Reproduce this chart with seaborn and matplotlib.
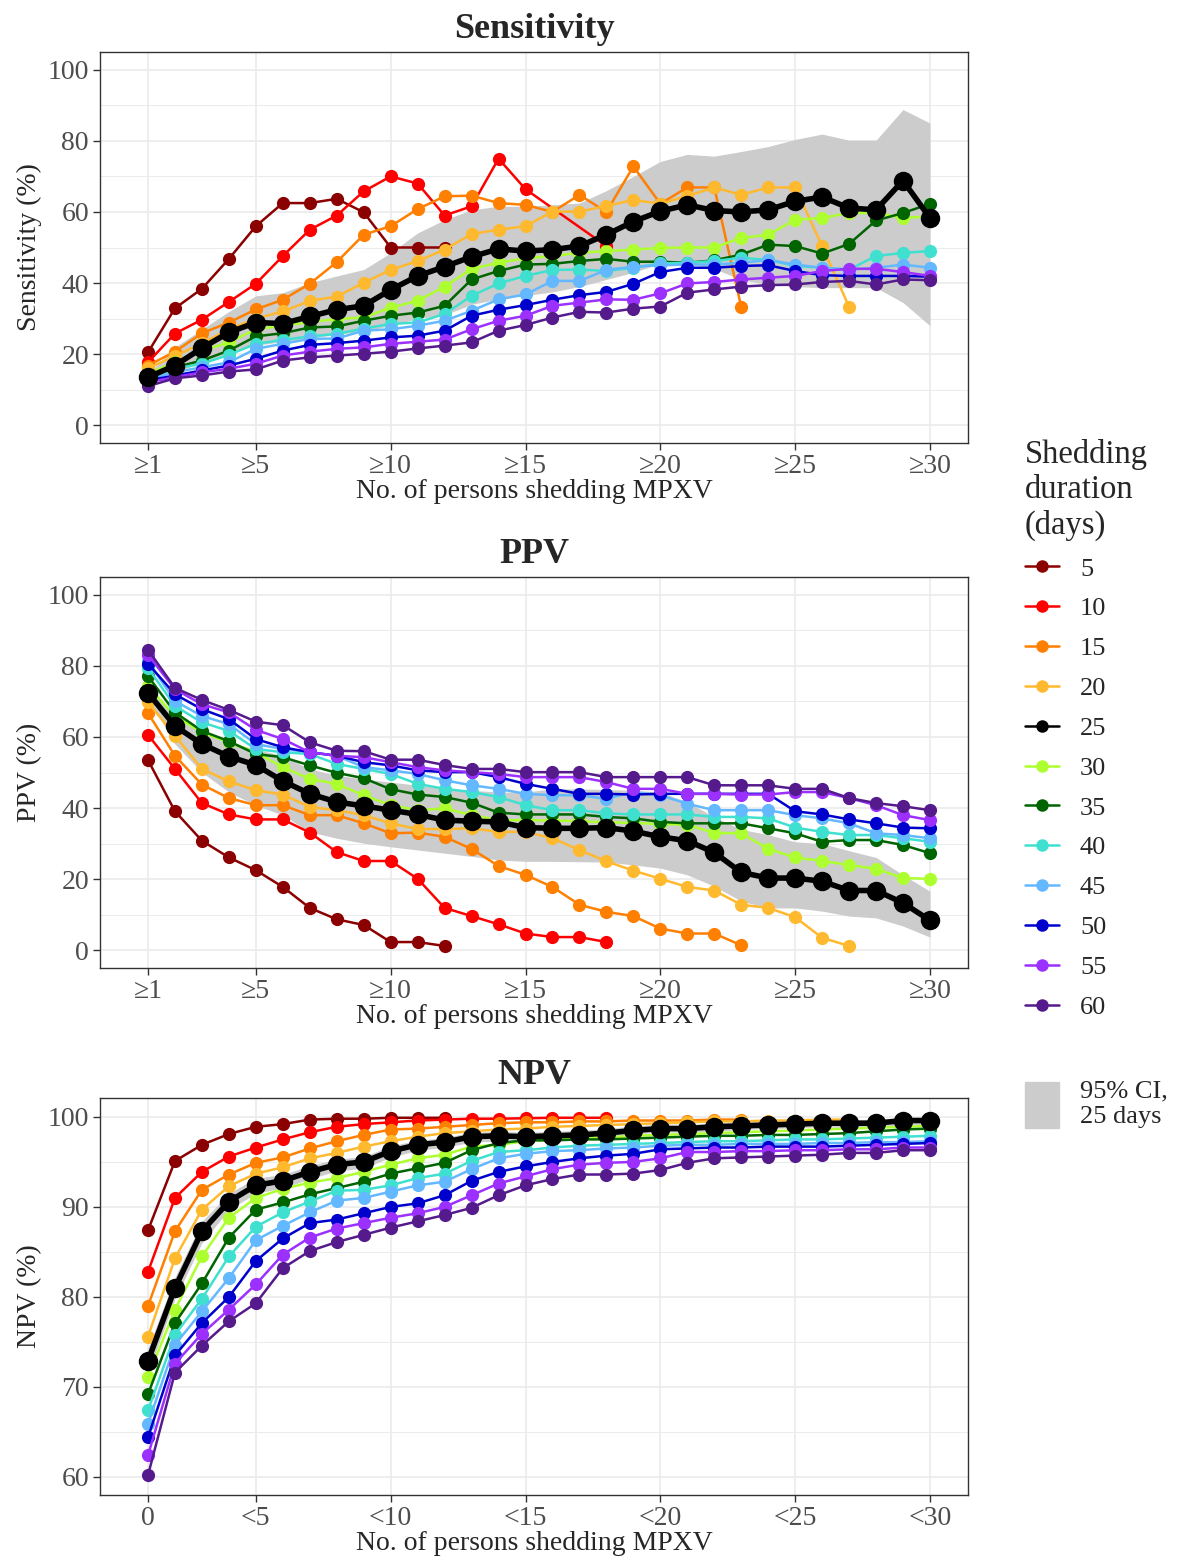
import numpy as np
import pandas as pd
import seaborn as sns
import matplotlib.pyplot as plt
from matplotlib.lines import Line2D
from matplotlib.patches import Patch
from matplotlib.ticker import MultipleLocator

nan = np.nan

# shedding durations (days) and their colours
durations = [5, 10, 15, 20, 25, 30, 35, 40, 45, 50, 55, 60]
colors = ["#8B0000", "#FF0000", "#FF7F00", "#FFB92E", "#000000", "#ADFF2F",
          "#006400", "#40E0D0", "#63B8FF", "#0000CD", "#9B30FF", "#551A8B"]

top_ticks = ["≥1", "≥5", "≥10", "≥15", "≥20", "≥25", "≥30"]
npv_ticks = ["0", "<5", "<10", "<15", "<20", "<25", "<30"]
tick_pos = [1, 5, 10, 15, 20, 25, 30]

# sensitivity (%), x = 1..n persons shedding
sens = {
    5: [20.5, 32.9, 38.4, 46.8, 56.0, 62.5, 62.5, 63.7, 59.9, 50.0, 50.0, 50.0],
    10: [17.7, 25.8, 29.7, 34.7, 39.8, 47.6, 55.0, 59.0, 65.8, 70.0, 68.0, 59.0, 61.6, 75.0, 66.4, nan, nan, 50.4],
    15: [16.8, 20.7, 25.9, 28.9, 32.6, 35.3, 39.8, 45.9, 53.6, 56.0, 60.8, 64.4, 64.6, 62.5, 62.0, 60.0, 64.8, 60.0,
         72.8, 62.3, 66.9, 66.9, 33.3],
    20: [16.0, 19.5, 23.0, 27.0, 30.0, 32.0, 35.0, 36.2, 40.1, 43.7, 46.2, 49.4, 53.8, 55.0, 56.0, 60.1, 60.1, 61.7,
         63.4, 62.3, 64.5, 66.9, 64.8, 66.9, 66.9, 50.4, 33.3],
    25: [13.5, 16.8, 21.7, 26.1, 28.9, 28.6, 30.6, 32.5, 33.6, 38.1, 42.0, 44.6, 47.4, 49.6, 49.0, 49.4, 50.4, 53.6,
         57.3, 60.2, 62.0, 60.4, 60.0, 60.6, 63.0, 64.2, 61.1, 60.6, 68.8, 58.3],
    30: [14.5, 17.7, 21.0, 23.3, 27.0, 28.0, 29.0, 29.9, 30.3, 33.1, 35.0, 39.0, 44.0, 45.7, 47.0, 47.6, 48.5, 49.0,
         49.4, 49.9, 50.0, 50.0, 52.7, 53.6, 57.8, 58.3, 59.7, 59.7, 58.3, 58.8],
    35: [14.0, 16.3, 18.2, 21.0, 25.0, 25.9, 27.5, 27.8, 29.4, 30.8, 31.7, 33.6, 41.0, 43.4, 45.2, 45.4, 46.2, 46.8,
         46.0, 46.0, 45.7, 46.4, 48.0, 50.8, 50.4, 48.3, 51.0, 57.6, 59.7, 62.3],
    40: [13.5, 15.9, 17.3, 19.8, 22.9, 24.0, 25.0, 25.7, 27.2, 28.5, 28.9, 31.3, 36.4, 39.9, 42.0, 43.7, 43.8, 43.4,
         44.3, 45.5, 45.7, 46.2, 47.1, 46.5, 44.8, 44.3, 43.8, 47.6, 48.5, 49.0],
    45: [13.0, 14.9, 16.3, 17.7, 21.5, 22.9, 24.3, 24.4, 26.6, 27.0, 28.0, 29.4, 32.2, 35.4, 36.8, 40.6, 40.6, 43.7,
         44.6, 45.0, 45.2, 45.2, 45.7, 46.5, 45.2, 44.3, 43.8, 44.3, 45.2, 44.3],
    50: [12.6, 14.0, 15.4, 16.8, 18.7, 21.0, 22.6, 23.1, 23.8, 24.7, 25.2, 26.6, 30.8, 32.5, 33.8, 35.3, 36.6, 37.5,
         39.8, 43.1, 44.3, 44.3, 44.8, 45.0, 43.4, 42.2, 42.0, 42.0, 42.0, 41.8],
    55: [12.1, 13.5, 14.9, 15.9, 17.3, 19.6, 20.7, 21.5, 21.9, 22.9, 23.5, 24.1, 27.0, 29.4, 30.8, 33.6, 34.5, 35.4,
         35.3, 37.1, 39.9, 40.3, 41.0, 41.5, 42.0, 43.4, 44.0, 44.0, 43.1, 42.0],
    60: [11.0, 13.2, 14.0, 15.1, 15.7, 18.2, 19.1, 19.6, 20.1, 20.7, 21.6, 22.4, 23.3, 26.6, 28.2, 30.3, 31.9, 31.7,
         32.8, 33.4, 37.3, 38.2, 39.0, 39.4, 39.6, 40.3, 40.6, 39.6, 41.0, 40.8],
}
sens_lo = [13, 15, 17.5, 20.5, 22.5, 23.5, 24.5, 25.5, 26.5, 28, 30, 31, 34, 35.5, 36.5, 37.5, 39, 41, 43, 45.5,
           45.5, 44, 41, 39.5, 39, 38.7, 38.7, 38.7, 34.5, 28]
sens_hi = [14.5, 22, 27, 32, 36.4, 37.3, 40.1, 42, 43.8, 48.5, 54.1, 57.8, 60.6, 61.6, 61.6, 62, 62.5, 66, 70, 74.2,
           76.2, 75.7, 77, 78.4, 80.4, 81.9, 80.2, 80.2, 88.8, 85]

# positive predictive value (%)
ppv = {
    5: [53.5, 39.1, 30.8, 26.1, 22.5, 17.8, 11.9, 8.7, 7.1, 2.3, 2.3, 1.2],
    10: [60.6, 51.0, 41.4, 38.2, 36.8, 36.8, 33.1, 27.6, 25.1, 25.1, 20.1, 11.9, 9.6, 7.3, 4.7, 3.7, 3.7, 2.3],
    15: [66.7, 54.7, 46.6, 42.8, 40.8, 40.8, 38.0, 38.0, 35.7, 32.9, 33.1, 31.9, 28.5, 23.7, 21.2, 17.8, 12.8, 10.8,
         9.6, 6.1, 4.7, 4.7, 1.4],
    20: [69.8, 60.3, 51.0, 47.5, 45.0, 43.8, 40.3, 39.4, 38.0, 35.7, 34.1, 34.1, 34.3, 33.3, 33.3, 31.5, 28.2, 25.0,
         22.4, 20.1, 17.8, 16.8, 12.8, 11.9, 9.3, 3.5, 1.2],
    25: [72.4, 63.1, 58.0, 54.5, 52.1, 47.6, 44.0, 41.7, 40.6, 39.4, 38.2, 36.6, 36.3, 36.1, 34.5, 34.3, 34.3, 34.5,
         33.5, 31.9, 30.8, 27.5, 21.9, 20.3, 20.3, 19.4, 16.8, 16.8, 13.3, 8.4],
    30: [74.3, 65.9, 61.3, 58.5, 55.7, 51.5, 48.2, 46.8, 43.6, 40.8, 39.4, 39.9, 38.0, 36.6, 36.6, 36.5, 36.3, 36.0,
         35.8, 35.5, 35.3, 33.0, 32.9, 28.5, 26.1, 25.1, 24.0, 22.9, 20.3, 20.1],
    35: [77.1, 66.9, 61.7, 58.8, 55.2, 54.3, 52.0, 49.9, 48.4, 45.3, 43.8, 43.1, 41.5, 38.7, 38.2, 38.2, 38.2, 37.5,
         37.1, 36.1, 35.7, 35.7, 35.7, 34.3, 32.9, 30.5, 31.0, 31.0, 29.6, 27.3],
    40: [79.4, 68.7, 64.1, 61.7, 56.6, 55.7, 55.2, 52.4, 51.0, 49.6, 46.8, 45.4, 44.5, 43.1, 40.8, 39.4, 39.4, 38.5,
         38.2, 38.2, 38.2, 37.5, 37.5, 37.1, 34.5, 33.3, 32.4, 32.4, 31.5, 30.5],
    45: [81.3, 70.1, 65.9, 63.6, 58.0, 56.6, 55.7, 54.7, 51.5, 50.6, 49.6, 47.8, 46.4, 45.4, 44.0, 43.6, 43.6, 42.6,
         44.5, 43.6, 41.2, 39.4, 39.4, 39.4, 38.0, 37.1, 35.7, 32.9, 32.4, 31.5],
    50: [80.6, 72.0, 67.8, 65.0, 59.4, 57.1, 55.7, 54.7, 52.9, 52.0, 50.6, 50.1, 50.1, 48.7, 46.8, 45.4, 44.0, 44.0,
         43.8, 44.0, 44.0, 44.0, 44.0, 44.0, 39.1, 38.2, 36.8, 35.7, 34.5, 34.3],
    55: [83.1, 73.4, 69.2, 66.9, 62.0, 59.4, 55.7, 54.7, 54.3, 52.9, 51.5, 50.6, 50.1, 49.6, 48.7, 48.7, 48.7, 47.3,
         45.4, 45.4, 44.0, 44.0, 43.8, 43.8, 44.5, 44.5, 42.8, 40.8, 38.0, 36.6],
    60: [84.5, 73.8, 70.4, 67.6, 64.3, 63.3, 58.5, 56.1, 56.0, 53.6, 53.6, 52.1, 51.0, 51.0, 50.1, 50.1, 50.1, 48.7,
         48.7, 48.7, 48.7, 46.4, 46.4, 46.4, 45.4, 45.4, 42.8, 41.4, 40.5, 39.4],
}
ppv_lo = [71, 58, 50, 44.5, 40.8, 38, 33.3, 31.5, 30.1, 29.1, 28.2, 27.3, 26.4, 25.4, 25, 25, 24.9, 24.8, 24, 23.1,
          21.2, 18, 13.8, 11.9, 11.9, 11, 9.6, 9.1, 6.8, 3.7]
ppv_hi = [74, 66, 61.3, 58.5, 56.6, 54.7, 51, 49.2, 48.2, 47.3, 46.4, 45.4, 45, 44.5, 44.5, 45.4, 45.4, 45.2, 45,
          44.5, 41.7, 37.5, 34, 32.5, 30.5, 30, 28, 26.1, 21.2, 16.6]

# negative predictive value (%)
npv = {
    5: [87.4, 95.1, 96.9, 98.1, 98.9, 99.2, 99.7, 99.8, 99.8, 99.9, 99.9, 99.9],
    10: [82.8, 91.0, 93.9, 95.6, 96.6, 97.5, 98.3, 98.9, 99.2, 99.4, 99.6, 99.7, 99.8, 99.8, 99.85, 99.9, 99.9, 99.9],
    15: [79.0, 87.3, 91.9, 93.6, 94.9, 95.5, 96.5, 97.3, 98.0, 98.6, 98.7, 98.9, 99.1, 99.3, 99.4, 99.4, 99.5, 99.5,
         99.6, 99.6, 99.6, 99.7, 99.7],
    20: [75.6, 84.3, 89.7, 92.3, 93.7, 94.4, 95.4, 96.0, 96.7, 97.3, 97.8, 98.2, 98.4, 98.6, 98.7, 98.9, 99.0, 99.1,
         99.2, 99.3, 99.4, 99.5, 99.5, 99.6, 99.6, 99.7, 99.7],
    25: [72.9, 81.0, 87.3, 90.6, 92.4, 92.9, 93.9, 94.7, 95.0, 96.2, 96.9, 97.2, 97.8, 97.9, 97.8, 97.9, 98.0, 98.2,
         98.5, 98.7, 98.7, 98.9, 99.0, 99.1, 99.2, 99.3, 99.3, 99.3, 99.6, 99.6],
    30: [71.1, 78.6, 84.5, 88.8, 91.0, 92.0, 92.7, 93.2, 93.9, 94.7, 95.4, 95.8, 96.7, 96.9, 97.3, 97.5, 97.6, 97.7,
         97.9, 98.0, 98.1, 98.2, 98.3, 98.4, 98.5, 98.6, 98.7, 98.8, 98.9, 99.0],
    35: [69.2, 77.1, 81.5, 86.6, 89.7, 90.5, 91.4, 92.1, 92.8, 93.7, 94.3, 94.9, 96.3, 97.1, 97.4, 97.4, 97.5, 97.5,
         97.6, 97.7, 97.8, 97.9, 97.9, 98.0, 98.0, 98.1, 98.2, 98.4, 98.6, 98.7],
    40: [67.4, 75.8, 79.8, 84.5, 87.8, 89.4, 90.6, 91.8, 91.9, 92.4, 93.2, 93.7, 95.1, 96.1, 96.3, 96.6, 96.8, 96.9,
         97.0, 97.1, 97.2, 97.3, 97.3, 97.4, 97.5, 97.5, 97.6, 97.7, 97.8, 97.9],
    45: [65.9, 74.7, 78.4, 82.1, 86.3, 87.9, 89.4, 90.7, 91.0, 91.7, 92.4, 92.8, 94.2, 95.4, 95.9, 96.2, 96.3, 96.5,
         96.6, 96.8, 96.9, 96.9, 97.0, 97.0, 97.0, 97.1, 97.1, 97.2, 97.2, 97.3],
    50: [64.4, 73.5, 77.1, 80.0, 84.0, 86.5, 88.2, 88.6, 89.3, 90.0, 90.4, 91.3, 92.9, 93.9, 94.5, 95.0, 95.4, 95.7,
         95.9, 96.4, 96.5, 96.6, 96.6, 96.7, 96.7, 96.7, 96.8, 96.9, 97.0, 97.1],
    55: [62.4, 72.6, 75.9, 78.6, 81.4, 84.7, 86.6, 87.6, 88.2, 88.8, 89.3, 90.0, 91.3, 92.6, 93.4, 94.2, 94.7, 94.9,
         95.0, 95.4, 96.1, 96.1, 96.2, 96.2, 96.3, 96.3, 96.4, 96.4, 96.6, 96.6],
    60: [60.2, 71.6, 74.6, 77.3, 79.3, 83.2, 85.1, 86.1, 86.9, 87.7, 88.4, 89.1, 89.9, 91.3, 92.4, 93.1, 93.6, 93.6,
         93.7, 94.1, 94.9, 95.4, 95.5, 95.6, 95.7, 95.8, 96.0, 96.0, 96.3, 96.3],
}
npv_lo = [71.5, 79.8, 86.0, 89.7, 91.5, 92.1, 93.1, 94.0, 94.3, 95.5, 96.3, 96.6, 97.2, 97.3, 97.3, 97.3, 97.4, 97.7,
          98.1, 98.3, 98.3, 98.4, 98.6, 98.7, 98.8, 98.9, 98.8, 98.9, 99.1, 99.1]
npv_hi = [74.3, 82.2, 88.4, 91.5, 93.2, 93.6, 94.6, 95.3, 95.6, 96.8, 97.4, 97.7, 98.3, 98.4, 98.3, 98.4, 98.5, 98.7,
          99.0, 99.2, 99.2, 99.3, 99.5, 99.6, 99.6, 99.7, 99.7, 99.7, 99.9, 99.9]


def to_long(d):
    rows = []
    for dur, vals in d.items():
        for i, v in enumerate(vals):
            rows.append((dur, i + 1, v))
    return pd.DataFrame(rows, columns=["dur", "x", "value"]).dropna()


sns.set_theme(style="white")
plt.rcParams["font.family"] = ["Liberation Serif", "DejaVu Serif"]

pal = dict(zip(durations, colors))
grey_txt = "#4D4D4D"

fig = plt.figure(figsize=(11.77, 15.66), dpi=100)
ax_sens = fig.add_axes([100 / 1177, 1 - 443 / 1566, 868 / 1177, 391 / 1566])
ax_ppv = fig.add_axes([100 / 1177, 1 - 968 / 1566, 868 / 1177, 391 / 1566])
ax_npv = fig.add_axes([100 / 1177, 1 - 1495 / 1566, 868 / 1177, 397 / 1566])

panels = [
    (ax_sens, sens, sens_lo, sens_hi, "Sensitivity", "Sensitivity (%)", top_ticks, (-5, 105), 20, 10),
    (ax_ppv, ppv, ppv_lo, ppv_hi, "PPV", "PPV (%)", top_ticks, (-5, 105), 20, 10),
    (ax_npv, npv, npv_lo, npv_hi, "NPV", "NPV (%)", npv_ticks, (58.0, 102.1), 10, 5),
]

for ax, data, lo, hi, title, ylab, xt, ylim, major, minor in panels:
    df = to_long(data)
    band_x = np.arange(1, len(lo) + 1)
    ax.fill_between(band_x, lo, hi, color="#CCCCCC", lw=0, zorder=1)

    others = df[df["dur"] != 25]
    sns.lineplot(data=others, x="x", y="value", hue="dur", palette=pal, marker="o",
                 markersize=9.5, markeredgewidth=0, linewidth=1.8, legend=False,
                 ax=ax, zorder=3)
    sns.lineplot(data=df[df["dur"] == 25], x="x", y="value", color="black", marker="o",
                 markersize=14, markeredgewidth=0, linewidth=4, legend=False,
                 ax=ax, zorder=4)

    ax.set_xlim(-0.78, 31.41)
    ax.set_ylim(*ylim)
    ax.set_xticks(tick_pos)
    ax.set_xticklabels(xt)
    ax.yaxis.set_major_locator(MultipleLocator(major))
    ax.yaxis.set_minor_locator(MultipleLocator(minor))
    ax.set_axisbelow(True)
    ax.grid(True, which="major", color="#EBEBEB", lw=1.2)
    ax.grid(True, which="minor", axis="y", color="#EBEBEB", lw=0.7)
    ax.tick_params(which="major", length=5, width=1, color="#333333",
                   labelcolor=grey_txt, labelsize=20, pad=3, bottom=True, left=True)
    ax.tick_params(which="minor", length=0)
    for s in ax.spines.values():
        s.set_color("#333333")
        s.set_linewidth(1)
    ax.set_title(title, fontsize=26, fontweight="bold", pad=10)
    ax.set_xlabel("No. of persons shedding MPXV", fontsize=20, labelpad=0)
    ax.set_ylabel(ylab, fontsize=20, labelpad=4)

handles = [Line2D([0], [0], color=c, marker="o", markersize=9, lw=1.8, markeredgewidth=0)
           for c in colors]
leg = fig.legend(handles, [str(d) for d in durations], title="Shedding\nduration\n(days)",
                 loc="upper left", bbox_to_anchor=(1014 / 1177, 1 - 428 / 1566), frameon=False,
                 fontsize=19, title_fontsize=23.5, handlelength=1.3, handletextpad=0.8,
                 labelspacing=0.62, alignment="left", borderaxespad=0)
fig.legend([Patch(color="#CCCCCC")], ["95% CI,\n25 days"], loc="upper left",
           bbox_to_anchor=(1014 / 1177, 1 - 1070 / 1566), frameon=False, fontsize=19,
           handlelength=1.3, handleheight=2.3, handletextpad=0.8, borderaxespad=0)

fig.savefig("out.png", dpi=100)
